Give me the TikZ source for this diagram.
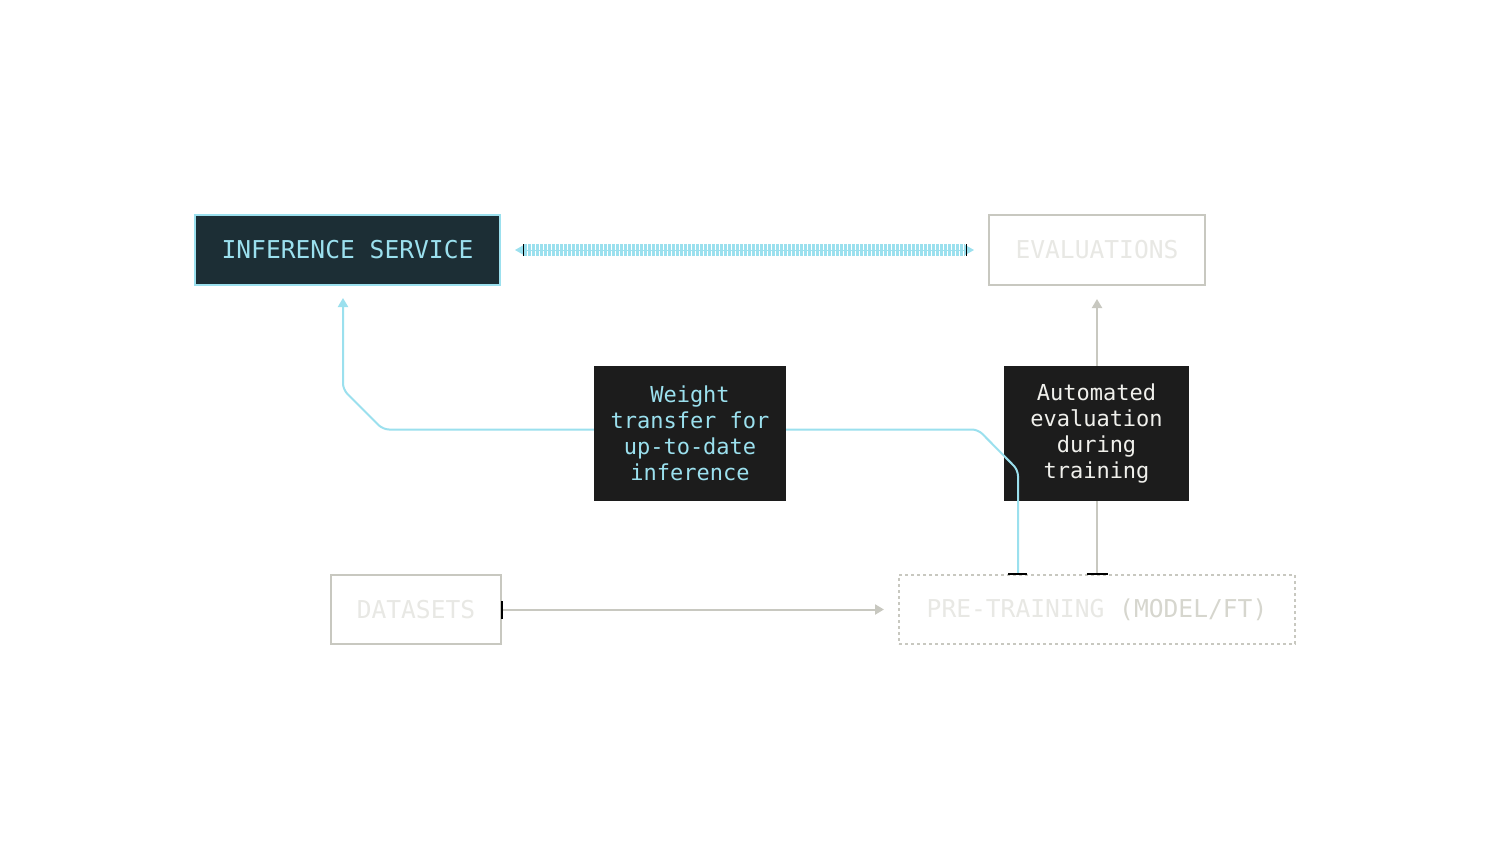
\documentclass[tikz,border=0pt]{standalone}
\usepackage{fontspec}
\setmonofont{DejaVu Sans Mono}
\usetikzlibrary{arrows.meta}
\definecolor{cy}{HTML}{9BE0EE}
\definecolor{infill}{HTML}{1C2E35}
\definecolor{boxdark}{HTML}{1C1C1C}
\definecolor{gline}{HTML}{C8C8C0}
\definecolor{gtext}{HTML}{E8E8E4}
\definecolor{gtext2}{HTML}{D6D6CE}
\definecolor{wtext}{HTML}{F0F0EC}
\tikzset{
  every node/.style={font=\ttfamily},
  bigbox/.style={draw, line width=2pt, inner sep=0pt, minimum height=70pt, font=\ttfamily\fontsize{24.6}{26}\selectfont},
  notebox/.style={fill=boxdark, inner sep=0pt, minimum height=135pt, align=center, font=\ttfamily\fontsize{22}{26}\selectfont},
  cyline/.style={draw=cy, line width=2pt, rounded corners=6pt},
  gyline/.style={draw=gline, line width=2pt},
  tip/.style={-{Triangle[width=10pt,length=9pt]}},
  tick/.style={draw=black, line width=2.5pt},
}
\begin{document}
\begin{tikzpicture}[x=1pt,y=-1pt]
\useasboundingbox[fill=white] (0,0) rectangle (1488,864);

% nodes
\node[bigbox, fill=infill, draw=cy, text=cy, minimum width=305pt] (inf) at (347.5,250) {INFERENCE SERVICE};
\node[bigbox, draw=gline, text=gtext, minimum width=216pt] (eval) at (1097,250) {EVALUATIONS};
\node[bigbox, draw=gline, text=gtext, minimum width=170pt, minimum height=69pt] (data) at (416,609.5) {DATASETS};
\node[bigbox, draw=gline, dash pattern=on 3pt off 3pt, minimum width=396pt, minimum height=69pt] (pre) at (1097,609.5) {\textcolor{gtext}{PRE-TRAINING }\textcolor{gtext2}{(MODEL/FT)}};

% gray connectors (behind the evaluation note)
\draw[gyline, tip] (pre.north) -- ([yshift=-13pt]eval.south);
\draw[gyline, tip] (data.east) -- ([xshift=-14pt]pre.west);

% evaluation note
\node[notebox, minimum width=185pt, text=wtext] (ae) at (1096.5,433.5) {Automated\\evaluation\\during\\training};

% cyan connector (over the evaluation note, behind the weight note)
\coordinate (c1) at (1018,470);
\coordinate (c2) at (978,429.5);
\coordinate (c3) at (383,429.5);
\coordinate (c4) at (343,389.5);
\coordinate (c5) at (343,298);
\draw[cyline, tip] ([xshift=-79pt]pre.north) -- (c1) -- (c2) -- (c3) -- (c4) -- (c5);

% striped double arrow
\draw[draw=cy, line width=1pt, {Triangle[width=10pt,length=9pt]}-{Triangle[width=10pt,length=9pt]}, shorten <=14pt, shorten >=14pt] (inf.east) -- (eval.west);
\draw[draw=cy, line width=12pt, dash pattern=on 2.7pt off 1.3pt, shorten <=23pt, shorten >=23pt] (inf.east) -- (eval.west);
\draw[draw=black, line width=0.8pt] ([xshift=22pt,yshift=-6pt]inf.east) -- ([xshift=22pt,yshift=6pt]inf.east);
\draw[draw=black, line width=0.8pt] ([xshift=-22pt,yshift=-6pt]eval.west) -- ([xshift=-22pt,yshift=6pt]eval.west);

% ticks on box borders
\draw[tick] ([xshift=-89pt]pre.north) -- ([xshift=-70pt]pre.north);
\draw[tick] ([xshift=-10.5pt]pre.north) -- ([xshift=10.5pt]pre.north);
\draw[tick] ([yshift=-9pt]data.east) -- ([yshift=9pt]data.east);

% weight note
\node[notebox, minimum width=192pt, text=cy] (wt) at (690,433.5) {Weight\\transfer for\\up-to-date\\inference};
\end{tikzpicture}
\end{document}
